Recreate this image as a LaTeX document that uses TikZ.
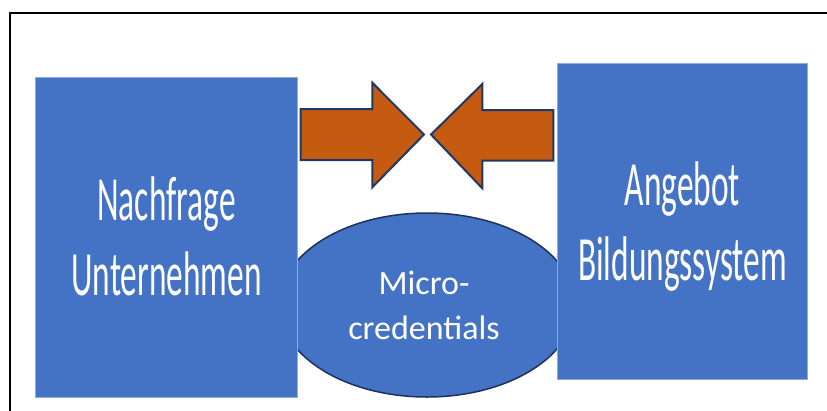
\documentclass[tikz,border=0pt]{standalone}
\usepackage{fontspec}
\newfontfamily\boxfont[FakeStretch=0.53]{Carlito}
\newfontfamily\ellfont{Carlito}
\definecolor{boxblue}{HTML}{4472C4}
\definecolor{boxedge}{HTML}{8FAADC}
\definecolor{arroworange}{HTML}{C55A11}
\definecolor{navy}{HTML}{203864}
\tikzset{
  bluebox/.style={fill=boxblue, draw=boxedge, line width=0.8pt},
  blockarrow/.style={fill=arroworange, draw=navy, line width=2pt, line join=miter},
  bigtext/.style={text=white, align=center, inner sep=0pt, font=\boxfont\fontsize{63}{75}\selectfont},
  smalltext/.style={text=white, align=center, inner sep=0pt, font=\ellfont\fontsize{34}{45}\selectfont},
  frameline/.style={draw=black, line width=2pt}
}
\begin{document}
\begin{tikzpicture}[x=1pt, y=-1pt]
\useasboundingbox (0,0) rectangle (827,410);
% frame
\draw[frameline] (10,420) -- (10,13) -- (840,13);
% ellipse (behind boxes)
\draw[fill=boxblue, draw=navy!90!black, line width=1.5pt] (427,305) ellipse [x radius=148, y radius=92];
% boxes
\draw[bluebox] (35,77) rectangle (297,397);
\draw[bluebox] (557.7,63) rectangle (807.3,379);
% arrows
\draw[blockarrow] (300.7,109) -- (372.3,109) -- (372.3,82.7) -- (424,134.5) -- (372.3,187.3) -- (372.3,160) -- (300.7,160) -- cycle;
\draw[blockarrow] (553.3,110) -- (482.3,110) -- (482.3,84) -- (431,134.5) -- (482.3,188.3) -- (482.3,160.7) -- (553.3,160.7) -- cycle;
% texts
\node[bigtext] (nachfrage) at (166.5,236.7) {Nachfrage\\Unternehmen};
\node[bigtext] (angebot) at (682.5,227) {Angebot\\Bildungssystem};
\node[smalltext] (micro) at (424,305.5) {Micro-\\credentials};
\end{tikzpicture}
\end{document}
